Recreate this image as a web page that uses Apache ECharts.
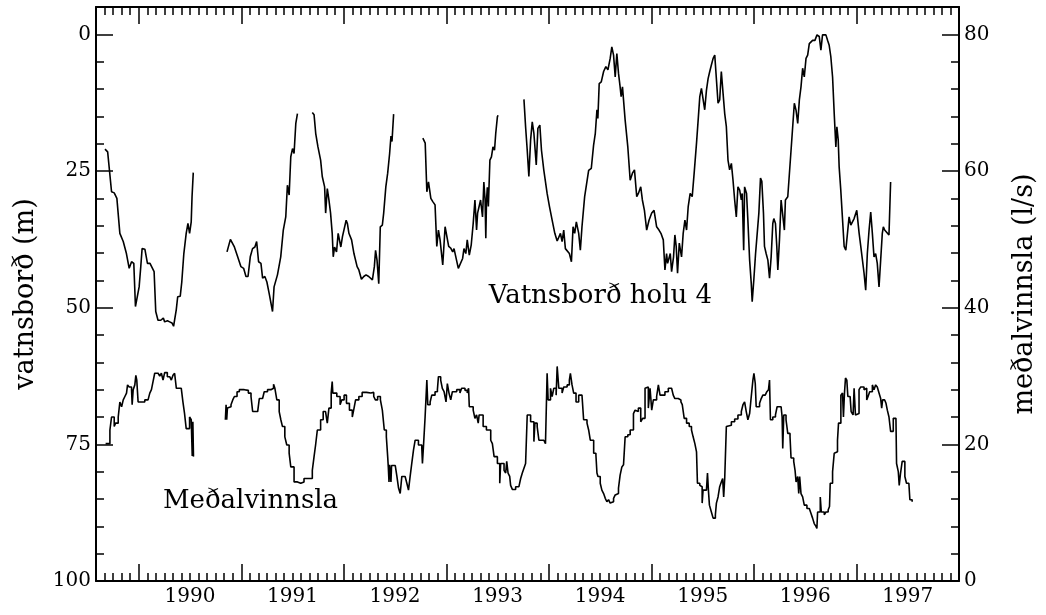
<!DOCTYPE html>
<html>
<head>
<meta charset="utf-8">
<script src="https://cdn.jsdelivr.net/npm/echarts@6/dist/echarts.min.js"></script>
<style>
  html, body { margin: 0; padding: 0; background: #ffffff; }
  #chart { width: 1046px; height: 615px; }
</style>
</head>
<body>
<div id="chart"></div>
<script>
// Time axis in decimal years; year ticks at 1 Jan, year labels centred mid-year.
const xStart = 1989 + 7 / 12;
const xEnd = 1998;
const yearTicks = [1990, 1991, 1992, 1993, 1994, 1995, 1996, 1997];
const yearLabelPositions = [1990.5, 1991.5, 1992.5, 1993.5, 1994.5, 1995.5, 1996.5, 1997.5];
const monthTicks = Array.from({ length: 100 }, (_, k) => xStart + (k + 1) / 12);

// Left axis: water level depth (m), inverted.
const levelMin = -5, levelMax = 100;
const levelLabels = [0, 25, 50, 75, 100];
const levelMajorTicks = [0, 25, 50, 75];
const levelMinorTicks = Array.from({ length: 20 }, (_, k) => k * 5);

// Right axis: mean production (l/s).
const rateMin = 0, rateMax = 84;
const rateLabels = [0, 20, 40, 60, 80];
const rateMajorTicks = [20, 40, 60, 80];
const rateMinorTicks = Array.from({ length: 20 }, (_, k) => (k + 1) * 4);

// Water level in well 4 (depth, m) — separate measurement periods.
const level1989 = [[1989.671,21.0],[1989.697,21.5],[1989.735,28.8],[1989.761,29.0],[1989.787,30.0],[1989.800,30.3],[1989.816,36.4],[1989.830,36.7],[1989.849,37.9],[1989.880,40.1],[1989.907,42.8],[1989.930,41.6],[1989.952,41.9],[1989.968,49.8],[1990.004,46.2],[1990.020,42.5],[1990.033,39.2],[1990.060,39.3],[1990.075,39.5],[1990.085,41.9],[1990.110,41.9],[1990.150,43.4],[1990.166,50.7],[1990.188,52.3],[1990.215,52.3],[1990.240,51.9],[1990.253,52.6],[1990.280,52.4],[1990.302,52.6],[1990.324,52.8],[1990.340,53.4],[1990.366,50.4],[1990.380,48.0],[1990.405,47.9],[1990.420,45.3],[1990.440,40.1],[1990.463,36.4],[1990.480,34.6],[1990.496,36.4],[1990.512,34.3],[1990.520,29.7],[1990.532,25.3]];
const level1990 = [[1990.861,39.8],[1990.894,37.5],[1990.933,38.9],[1990.965,40.7],[1990.997,42.5],[1991.023,42.8],[1991.046,44.3],[1991.066,44.3],[1991.088,40.7],[1991.110,39.2],[1991.133,38.9],[1991.150,37.9],[1991.169,41.6],[1991.192,41.9],[1991.208,44.6],[1991.230,44.3],[1991.250,45.3],[1991.272,47.4],[1991.289,47.7],[1991.305,50.7],[1991.320,46.2],[1991.353,44.0],[1991.385,40.7],[1991.410,35.8],[1991.434,33.4],[1991.450,27.6],[1991.467,29.4],[1991.483,22.4],[1991.500,20.9],[1991.515,21.8],[1991.532,16.3],[1991.548,14.5]];
const level1991 = [[1991.693,14.3],[1991.710,14.7],[1991.726,18.1],[1991.748,20.6],[1991.774,23.0],[1991.790,26.0],[1991.800,26.0],[1991.813,27.9],[1991.823,32.7],[1991.839,28.2],[1991.855,30.3],[1991.871,32.7],[1991.887,36.4],[1991.897,40.7],[1991.910,38.9],[1991.929,39.8],[1991.945,36.4],[1991.961,36.4],[1991.971,38.9],[1991.987,37.0],[1992.003,37.0],[1992.023,34.0],[1992.035,34.6],[1992.050,36.4],[1992.076,37.6],[1992.099,40.1],[1992.130,42.5],[1992.147,43.1],[1992.172,44.8],[1992.195,44.3],[1992.217,44.0],[1992.243,44.3],[1992.279,44.9],[1992.298,42.5],[1992.310,39.5],[1992.324,41.3],[1992.341,45.6],[1992.356,35.2],[1992.376,34.9],[1992.389,32.7],[1992.410,27.9],[1992.428,25.4],[1992.447,21.8],[1992.460,18.6],[1992.470,19.6],[1992.486,14.6]];
const level1992 = [[1992.771,19.0],[1992.794,19.9],[1992.810,28.8],[1992.826,27.0],[1992.849,30.0],[1992.868,30.6],[1992.890,31.2],[1992.907,38.8],[1992.923,35.8],[1992.939,37.6],[1992.965,42.2],[1992.988,35.2],[1993.004,34.9],[1993.023,38.8],[1993.043,39.1],[1993.062,39.8],[1993.075,39.2],[1993.094,39.5],[1993.117,42.8],[1993.133,42.5],[1993.159,41.0],[1993.172,39.2],[1993.190,40.1],[1993.204,37.6],[1993.224,40.4],[1993.243,38.5],[1993.262,34.6],[1993.279,30.3],[1993.295,35.8],[1993.305,32.7],[1993.334,30.3],[1993.353,33.4],[1993.366,27.0],[1993.378,30.3],[1993.385,37.3],[1993.392,30.3],[1993.400,28.0],[1993.410,31.5],[1993.425,23.0],[1993.440,22.4],[1993.455,20.6],[1993.470,21.2],[1993.482,18.1],[1993.498,15.1],[1993.504,14.8]];
const level1993 = [[1993.757,11.9],[1993.773,16.9],[1993.789,21.2],[1993.805,26.0],[1993.822,19.3],[1993.838,16.0],[1993.854,18.1],[1993.877,23.9],[1993.893,17.2],[1993.912,16.6],[1993.928,21.2],[1993.951,24.9],[1993.983,29.1],[1994.006,31.5],[1994.032,34.0],[1994.058,36.4],[1994.081,37.8],[1994.097,37.5],[1994.113,36.4],[1994.129,37.9],[1994.145,35.8],[1994.161,39.2],[1994.178,39.5],[1994.200,40.1],[1994.220,41.6],[1994.236,35.2],[1994.252,36.4],[1994.268,34.3],[1994.291,36.4],[1994.307,39.5],[1994.323,35.2],[1994.349,29.7],[1994.362,29.4],[1994.388,24.9],[1994.414,24.5],[1994.436,20.3],[1994.453,18.1],[1994.469,13.8],[1994.478,15.4],[1994.491,9.0],[1994.511,8.7],[1994.534,6.8],[1994.556,5.9],[1994.576,6.5],[1994.598,4.4],[1994.614,2.3],[1994.631,3.8],[1994.647,7.8],[1994.663,3.5],[1994.679,7.1],[1994.695,9.6],[1994.705,11.4],[1994.718,9.6],[1994.744,15.7],[1994.770,20.6],[1994.793,26.7],[1994.815,25.4],[1994.835,24.8],[1994.857,29.7],[1994.873,29.1],[1994.896,27.9],[1994.912,30.3],[1994.932,32.2],[1994.954,35.8],[1994.977,34.0],[1995.003,32.7],[1995.026,32.2],[1995.051,35.2],[1995.074,35.8],[1995.093,36.4],[1995.116,37.6],[1995.132,43.1],[1995.148,40.1],[1995.158,41.9],[1995.171,42.2],[1995.184,40.1],[1995.197,43.4],[1995.216,40.7],[1995.229,36.7],[1995.242,38.8],[1995.255,43.7],[1995.272,38.2],[1995.294,40.7],[1995.310,36.4],[1995.327,34.0],[1995.343,35.8],[1995.359,31.5],[1995.378,29.1],[1995.398,29.7],[1995.417,25.4],[1995.440,19.9],[1995.456,15.7],[1995.472,11.4],[1995.488,9.9],[1995.504,10.2],[1995.520,13.8],[1995.537,10.2],[1995.553,8.1],[1995.569,6.8],[1995.585,5.6],[1995.602,4.4],[1995.618,3.8],[1995.634,4.1],[1995.650,12.6],[1995.666,12.0],[1995.682,6.8],[1995.699,10.8],[1995.715,14.5],[1995.731,16.9],[1995.747,23.0],[1995.763,24.8],[1995.780,23.6],[1995.796,26.7],[1995.812,30.3],[1995.828,33.4],[1995.844,27.9],[1995.861,28.5],[1995.877,30.3],[1995.886,29.1],[1995.900,39.5],[1995.909,27.9],[1995.928,29.1],[1995.941,34.0],[1995.958,41.3],[1995.974,45.6],[1995.983,48.9],[1995.999,44.9],[1996.016,40.1],[1996.032,36.4],[1996.048,32.7],[1996.064,26.3],[1996.077,26.9],[1996.093,32.7],[1996.103,38.8],[1996.119,40.1],[1996.136,41.3],[1996.152,44.6],[1996.168,40.7],[1996.184,34.6],[1996.194,33.7],[1996.210,34.6],[1996.223,38.8],[1996.233,43.1],[1996.249,37.6],[1996.265,30.3],[1996.281,30.0],[1996.297,35.8],[1996.307,30.3],[1996.330,29.7],[1996.346,29.7],[1996.362,21.2],[1996.378,16.9],[1996.394,12.6],[1996.411,13.9],[1996.427,16.3],[1996.443,12.0],[1996.459,9.6],[1996.475,6.2],[1996.491,7.8],[1996.508,4.4],[1996.524,3.8],[1996.540,1.7],[1996.556,1.4],[1996.572,1.1],[1996.595,1.1],[1996.615,0.1],[1996.628,0.1],[1996.637,0.4],[1996.653,2.9],[1996.669,0.1],[1996.702,0.1],[1996.718,1.1],[1996.734,2.0],[1996.750,4.1],[1996.767,7.8],[1996.783,14.5],[1996.799,20.6],[1996.809,16.9],[1996.822,19.3],[1996.831,24.2],[1996.847,28.5],[1996.864,28.8],[1996.880,38.8],[1996.896,39.5],[1996.912,39.8],[1996.928,33.4],[1996.945,34.9],[1996.961,35.2],[1996.977,33.7],[1997.003,32.2],[1997.026,36.4],[1997.042,38.8],[1997.074,43.7],[1997.090,46.8],[1997.106,40.1],[1997.123,35.8],[1997.139,32.5],[1997.155,36.4],[1997.171,40.7],[1997.187,40.1],[1997.203,41.9],[1997.220,46.2],[1997.236,41.3],[1997.252,36.4],[1997.262,35.2],[1997.275,35.8],[1997.294,35.8],[1997.317,36.7],[1997.333,27.0]];

// Mean production (l/s), stepwise averages.
const rate1989 = [[1989.677,20.1],[1989.719,22.1],[1989.735,24.0],[1989.761,22.6],[1989.774,23.1],[1989.800,24.0],[1989.816,26.2],[1989.833,25.5],[1989.849,26.5],[1989.865,27.0],[1989.881,27.5],[1989.891,28.7],[1989.907,28.4],[1989.930,28.0],[1989.936,25.8],[1989.946,28.0],[1989.962,28.7],[1989.972,30.1],[1989.981,29.4],[1989.994,26.2],[1990.059,26.5],[1990.091,26.7],[1990.108,27.5],[1990.124,28.0],[1990.140,29.2],[1990.156,30.4],[1990.189,30.5],[1990.205,30.0],[1990.221,30.4],[1990.237,29.4],[1990.253,30.5],[1990.279,29.9],[1990.302,29.7],[1990.318,29.4],[1990.334,30.1],[1990.350,30.4],[1990.367,28.2],[1990.415,28.0],[1990.431,26.2],[1990.447,24.5],[1990.463,22.3],[1990.496,24.0],[1990.512,23.6],[1990.522,18.3],[1990.528,23.3],[1990.534,18.2],[1990.540,18.2]];
const rate1990 = [[1990.845,23.6],[1990.852,25.8],[1990.858,23.6],[1990.865,25.3],[1990.875,25.5],[1990.900,25.8],[1990.917,26.5],[1990.933,27.0],[1990.959,27.7],[1990.981,28.0],[1991.030,27.9],[1991.069,27.5],[1991.095,27.0],[1991.111,24.8],[1991.160,25.0],[1991.176,26.7],[1991.208,26.5],[1991.224,27.7],[1991.256,28.0],[1991.289,28.2],[1991.315,28.8],[1991.328,28.2],[1991.347,26.5],[1991.370,24.8],[1991.386,23.6],[1991.402,22.6],[1991.425,21.1],[1991.444,19.9],[1991.467,18.7],[1991.483,16.7],[1991.515,14.5],[1991.548,14.3],[1991.580,14.5],[1991.612,15.0],[1991.693,16.2],[1991.710,18.2],[1991.725,19.9],[1991.742,22.1],[1991.774,23.6],[1991.799,24.8],[1991.822,25.0],[1991.839,23.1],[1991.855,25.3],[1991.877,27.5],[1991.887,29.2],[1991.893,27.5],[1991.932,27.0],[1991.964,25.8],[1991.980,26.5],[1992.003,27.2],[1992.026,26.0],[1992.055,25.0],[1992.083,24.0],[1992.100,25.3],[1992.115,26.5],[1992.147,27.0],[1992.179,27.6],[1992.221,27.5],[1992.263,27.6],[1992.292,27.0],[1992.308,26.5],[1992.330,27.0],[1992.357,26.5],[1992.376,25.0],[1992.395,22.1],[1992.415,21.1],[1992.428,18.2],[1992.434,16.7],[1992.441,14.5],[1992.447,17.0],[1992.460,14.5],[1992.466,16.9],[1992.502,16.7],[1992.518,15.3],[1992.534,13.6],[1992.550,12.8],[1992.566,15.3],[1992.598,15.3],[1992.615,14.3],[1992.631,13.3],[1992.647,15.3],[1992.663,17.2],[1992.680,19.2],[1992.696,20.6],[1992.728,19.9],[1992.761,19.4],[1992.767,17.2],[1992.777,19.7],[1992.793,24.0],[1992.810,29.4],[1992.819,25.8],[1992.842,26.2],[1992.858,27.2],[1992.890,27.7],[1992.913,28.0],[1992.923,29.9],[1992.945,29.4],[1992.961,28.2],[1992.978,27.7],[1992.997,26.2],[1993.010,28.9],[1993.026,27.5],[1993.043,26.5],[1993.059,27.7],[1993.101,28.0],[1993.133,27.5],[1993.149,28.2],[1993.182,27.9],[1993.204,27.5],[1993.217,28.2],[1993.224,25.5],[1993.262,25.0],[1993.279,23.8],[1993.295,24.3],[1993.311,23.1],[1993.320,24.3],[1993.359,22.6],[1993.391,22.1],[1993.433,20.6],[1993.449,20.1],[1993.466,18.2],[1993.498,17.2],[1993.521,14.3],[1993.530,17.2],[1993.563,16.2],[1993.579,15.8],[1993.589,17.5],[1993.602,15.8],[1993.618,15.3],[1993.627,14.0],[1993.644,13.4],[1993.676,13.8],[1993.708,14.0],[1993.725,15.0],[1993.741,15.8],[1993.757,16.5],[1993.773,17.2],[1993.789,24.3],[1993.822,23.3],[1993.854,20.4],[1993.864,23.1],[1993.886,22.6],[1993.903,20.6],[1993.951,20.4],[1993.967,20.1],[1993.983,30.4],[1993.993,26.5],[1994.016,28.2],[1994.032,27.0],[1994.048,28.2],[1994.071,27.2],[1994.081,31.4],[1994.097,28.2],[1994.129,27.5],[1994.145,28.4],[1994.178,28.7],[1994.200,29.4],[1994.210,30.4],[1994.226,28.7],[1994.242,27.5],[1994.265,26.2],[1994.291,27.2],[1994.323,27.0],[1994.339,23.6],[1994.372,23.1],[1994.388,22.1],[1994.404,20.6],[1994.437,18.7],[1994.459,18.4],[1994.469,15.8],[1994.479,15.3],[1994.501,14.3],[1994.517,13.3],[1994.534,12.8],[1994.550,12.1],[1994.566,11.6],[1994.582,11.9],[1994.598,11.4],[1994.614,11.6],[1994.631,12.1],[1994.647,12.6],[1994.663,12.8],[1994.679,13.6],[1994.695,15.5],[1994.712,16.7],[1994.728,17.0],[1994.744,21.1],[1994.770,21.4],[1994.793,22.1],[1994.825,24.5],[1994.841,25.0],[1994.857,24.8],[1994.873,25.3],[1994.896,23.3],[1994.915,23.8],[1994.938,28.2],[1994.954,28.4],[1994.970,25.3],[1994.987,28.2],[1995.003,25.0],[1995.019,26.5],[1995.051,27.0],[1995.068,28.7],[1995.084,27.2],[1995.132,27.7],[1995.165,28.2],[1995.197,28.0],[1995.213,27.2],[1995.229,26.7],[1995.262,26.5],[1995.288,26.2],[1995.301,25.8],[1995.320,23.8],[1995.343,23.1],[1995.369,22.6],[1995.391,22.1],[1995.407,21.1],[1995.424,20.1],[1995.440,18.9],[1995.449,14.3],[1995.472,14.0],[1995.488,13.8],[1995.495,11.4],[1995.504,13.3],[1995.537,13.3],[1995.547,15.8],[1995.556,13.3],[1995.566,11.1],[1995.585,10.1],[1995.602,9.2],[1995.624,9.7],[1995.634,11.4],[1995.650,12.3],[1995.666,13.8],[1995.682,14.5],[1995.695,15.0],[1995.705,12.3],[1995.715,15.0],[1995.731,22.6],[1995.747,22.8],[1995.780,23.3],[1995.812,23.7],[1995.844,24.3],[1995.877,24.8],[1995.893,25.8],[1995.909,26.2],[1995.925,24.8],[1995.941,23.6],[1995.958,24.5],[1995.974,27.0],[1995.990,29.4],[1996.000,30.4],[1996.013,28.9],[1996.022,25.5],[1996.055,26.0],[1996.071,26.7],[1996.087,27.2],[1996.110,27.0],[1996.126,27.7],[1996.142,28.0],[1996.152,29.4],[1996.161,23.6],[1996.184,24.0],[1996.210,24.3],[1996.226,25.5],[1996.265,25.3],[1996.275,24.0],[1996.281,19.4],[1996.291,24.3],[1996.313,23.6],[1996.330,21.6],[1996.352,21.1],[1996.362,18.0],[1996.388,17.5],[1996.401,16.2],[1996.411,14.5],[1996.427,15.3],[1996.437,12.8],[1996.446,15.3],[1996.459,12.8],[1996.475,12.3],[1996.491,11.1],[1996.517,10.6],[1996.540,10.4],[1996.556,9.9],[1996.572,9.2],[1996.588,8.4],[1996.605,8.0],[1996.614,7.7],[1996.621,10.1],[1996.640,10.1],[1996.647,12.3],[1996.657,10.1],[1996.686,9.7],[1996.702,10.1],[1996.724,10.4],[1996.737,10.9],[1996.744,14.3],[1996.767,16.0],[1996.783,18.7],[1996.799,18.9],[1996.815,20.6],[1996.825,23.1],[1996.848,27.2],[1996.864,27.5],[1996.873,24.0],[1996.883,27.5],[1996.893,29.7],[1996.906,29.4],[1996.916,27.0],[1996.938,27.0],[1996.948,24.8],[1996.967,24.3],[1996.977,28.2],[1996.990,24.3],[1997.009,24.5],[1997.025,28.0],[1997.042,28.4],[1997.074,28.0],[1997.090,28.2],[1997.100,26.5],[1997.113,27.0],[1997.129,27.7],[1997.155,28.7],[1997.171,28.0],[1997.187,28.7],[1997.203,28.4],[1997.220,27.5],[1997.236,26.7],[1997.246,25.3],[1997.255,26.5],[1997.275,26.5],[1997.288,26.0],[1997.301,25.0],[1997.317,24.0],[1997.333,21.9],[1997.359,23.8],[1997.385,23.8],[1997.391,17.2],[1997.408,16.0],[1997.417,14.0],[1997.430,15.8],[1997.446,17.5],[1997.462,17.5],[1997.472,15.3],[1997.488,14.3],[1997.511,14.2],[1997.521,11.9],[1997.543,11.6]];

// Join measurement periods, leaving a break right after each period's last reading
// (so a stepped line does not run on past the end of its data).
function withBreaks(segments) {
  const out = [];
  segments.forEach((seg, i) => {
    seg.forEach(p => out.push(p));
    if (i < segments.length - 1) out.push([seg[seg.length - 1][0] + 0.0005, null]);
  });
  return out;
}

const FONT = '"DejaVu Serif", "Liberation Serif", serif';
const INK = '#000000';

const chart = echarts.init(document.getElementById('chart'), null, { renderer: 'canvas' });

function xAxisCfg(position, ticks, tickLen, showLine, labels) {
  return {
    type: 'value', position, min: xStart, max: xEnd,
    axisLine: { show: showLine, onZero: false, lineStyle: { color: INK, width: 2 } },
    axisTick: { show: true, inside: true, length: tickLen, customValues: ticks, lineStyle: { color: INK, width: 1.5 } },
    axisLabel: labels ? {
      show: true, customValues: labels, margin: 6, color: INK,
      fontFamily: FONT, fontSize: 20, formatter: v => String(Math.floor(v))
    } : { show: false },
    splitLine: { show: false }
  };
}

function yAxisCfg(position, min, max, inverse, ticks, tickLen, showLine, labels, name, nameGap) {
  const cfg = {
    type: 'value', position, min, max, inverse,
    axisLine: { show: showLine, onZero: false, lineStyle: { color: INK, width: 2 } },
    axisTick: { show: true, inside: true, length: tickLen, customValues: ticks, lineStyle: { color: INK, width: 1.5 } },
    axisLabel: labels ? {
      show: true, customValues: labels, margin: 5, color: INK,
      fontFamily: FONT, fontSize: 20
    } : { show: false },
    splitLine: { show: false }
  };
  if (name) {
    cfg.name = name;
    cfg.nameLocation = 'middle';
    cfg.nameGap = nameGap;
    cfg.nameTextStyle = { color: INK, fontFamily: FONT, fontSize: 27 };
  }
  return cfg;
}

const annotationLabel = {
  show: true, position: 'right', distance: 0, color: INK, opacity: 1,
  fontFamily: FONT, fontSize: 26
};

chart.setOption({
  backgroundColor: '#ffffff',
  animation: false,
  grid: { left: 96, right: 83, top: 7, bottom: 34, containLabel: false },
  xAxis: [
    xAxisCfg('bottom', monthTicks, 8, true, yearLabelPositions),
    xAxisCfg('bottom', yearTicks, 17, false, null),
    xAxisCfg('top', monthTicks, 8, true, null),
    xAxisCfg('top', yearTicks, 17, false, null)
  ],
  yAxis: [
    yAxisCfg('left', levelMin, levelMax, true, levelMinorTicks, 8, true, levelLabels, 'vatnsborð (m)', 57),
    yAxisCfg('left', levelMin, levelMax, true, levelMajorTicks, 17, false, null),
    yAxisCfg('right', rateMin, rateMax, false, rateMinorTicks, 8, true, rateLabels, 'meðalvinnsla (l/s)', 52),
    yAxisCfg('right', rateMin, rateMax, false, rateMajorTicks, 17, false, null)
  ],
  series: [
    {
      name: 'Vatnsborð holu 4', type: 'line', xAxisIndex: 0, yAxisIndex: 0,
      data: withBreaks([level1989, level1990, level1991, level1992, level1993]),
      connectNulls: false, showSymbol: false, symbol: 'none',
      lineStyle: { color: INK, width: 1.6 }
    },
    {
      name: 'Meðalvinnsla', type: 'line', step: 'end', xAxisIndex: 0, yAxisIndex: 2,
      data: withBreaks([rate1989, rate1990]),
      connectNulls: false, showSymbol: false, symbol: 'none',
      lineStyle: { color: INK, width: 1.6 }
    },
    {
      type: 'scatter', xAxisIndex: 0, yAxisIndex: 0, silent: true,
      symbolSize: 1, itemStyle: { color: 'rgba(0,0,0,0)', opacity: 1 },
      label: annotationLabel,
      data: [
        { value: [1993.409, 48.0], label: { formatter: 'Vatnsborð holu 4', color: INK } },
        { value: [1990.231, 85.4], label: { formatter: 'Meðalvinnsla', color: INK } }
      ]
    }
  ]
});
</script>
</body>
</html>
